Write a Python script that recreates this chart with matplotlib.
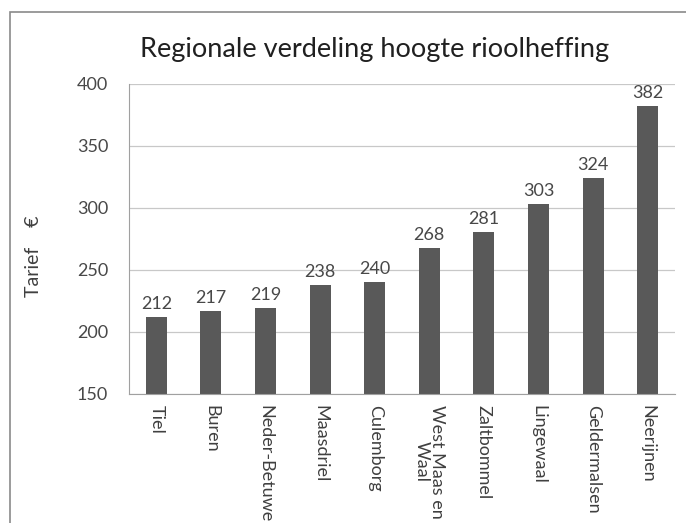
import matplotlib.pyplot as plt
from matplotlib.patches import Rectangle

plt.rcParams['font.family'] = ['Lato', 'DejaVu Sans']

gemeenten = ['Tiel', 'Buren', 'Neder-Betuwe', 'Maasdriel', 'Culemborg',
             'West Maas en\nWaal', 'Zaltbommel', 'Lingewaal', 'Geldermalsen', 'Neerijnen']
tarief = [212, 217, 219, 238, 240, 268, 281, 303, 324, 382]

fig = plt.figure(figsize=(6.86, 5.23), dpi=100)

# chart frame (cut off at right/bottom like the scan)
fig.patches.append(Rectangle((10/686, -0.2), 1.0, 1 - 12/523 + 0.2,
                             transform=fig.transFigure, fill=False,
                             edgecolor='#8a8a8a', linewidth=1.2))

ax = fig.add_axes([129/686, 1 - 394/523, 546/686, 310/523])
x = range(len(gemeenten))
ax.bar(x, tarief, width=0.385, color='#595959', zorder=2)
for i, v in zip(x, tarief):
    ax.text(i, v + 4, str(v), ha='center', va='bottom', fontsize=13, color='#484848')

ax.set_ylim(150, 400)
ax.set_xlim(-0.5, len(gemeenten) - 0.5)
ax.set_yticks([150, 200, 250, 300, 350, 400])
ax.yaxis.grid(True, color='#c8c8c8', linewidth=0.9)
ax.set_axisbelow(True)
for s in ['top', 'right']:
    ax.spines[s].set_visible(False)
for s in ['left', 'bottom']:
    ax.spines[s].set_color('#a0a0a0')
ax.tick_params(axis='y', length=0, labelsize=13, labelcolor='#484848', pad=15)
ax.tick_params(axis='x', length=0, labelsize=13, labelcolor='#404040', pad=8)
ax.set_xticks(list(x))
ax.set_xticklabels(gemeenten, rotation=270, va='top', ha='center', linespacing=0.95)
ax.set_ylabel('Tarief    €', fontsize=14, color='#404040')
ax.yaxis.set_label_coords(-0.16, 0.445)

fig.text(375/686, 1 - 50/523, 'Regionale verdeling hoogte rioolheffing',
         ha='center', va='center', fontsize=19.5, color='#202020')

fig.savefig('out.png', dpi=100)
